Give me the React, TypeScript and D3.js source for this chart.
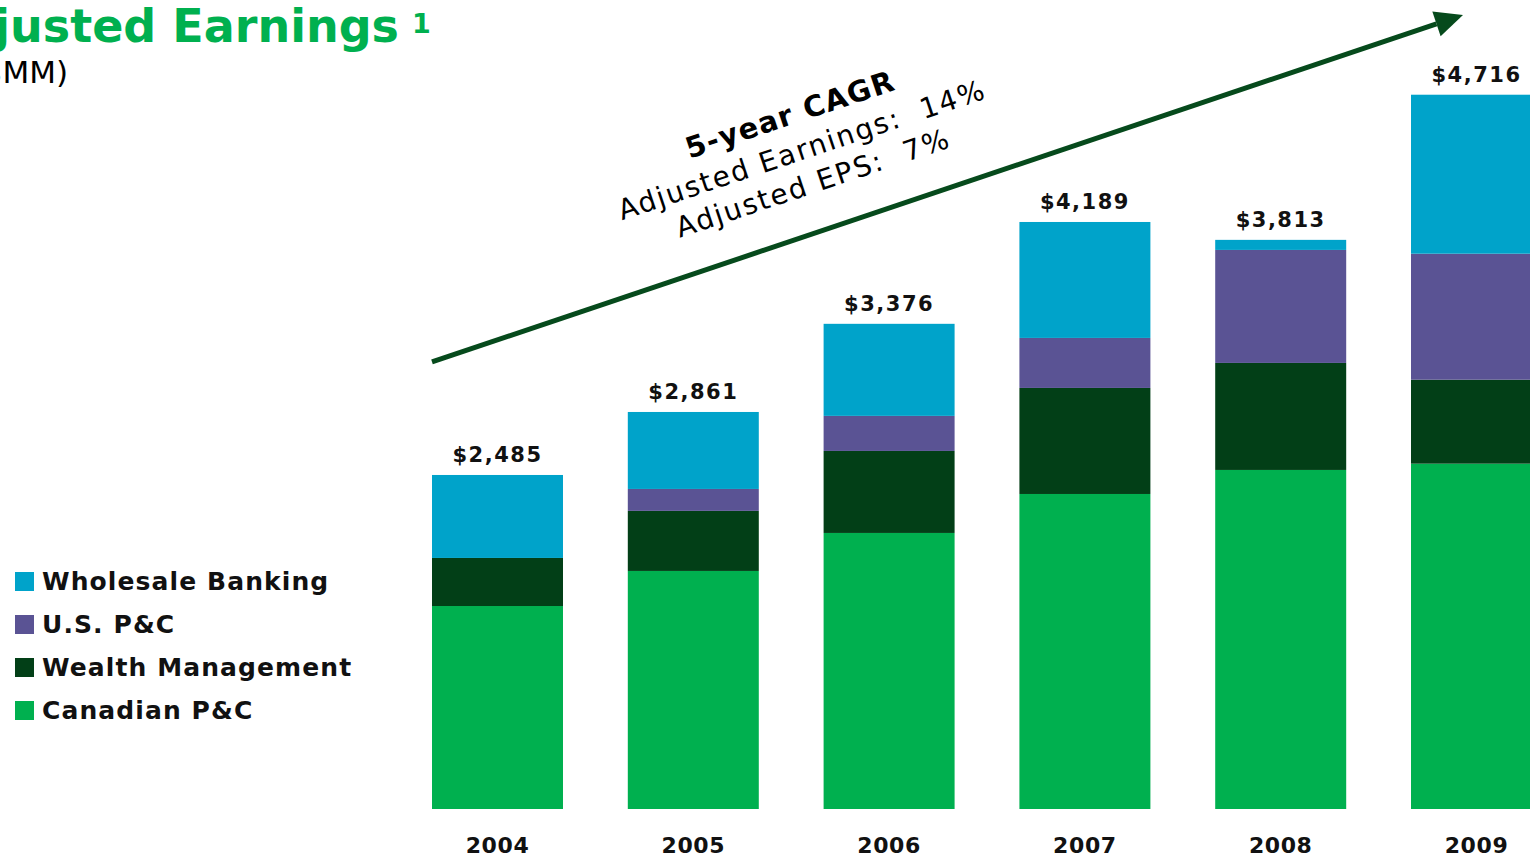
import React from "react";
import * as d3 from "d3";

const years = ["2004", "2005", "2006", "2007", "2008", "2009"];
const canadianPC = [1453, 1704, 1976, 2255, 2427, 2472];
const wealthMgmt = [344, 430, 587, 759, 766, 601];
const usPC = [0, 157, 251, 358, 809, 902];
const wholesale = [594, 551, 659, 830, 72, 1138];
const totalLabels = ["$2,485", "$2,861", "$3,376", "$4,189", "$3,813", "$4,716"];

const seriesKeys = ["canadianPC", "wealthMgmt", "usPC", "wholesale"];
const seriesNames = ["Canadian P&C", "Wealth Management", "U.S. P&C", "Wholesale Banking"];
const seriesColors = ["#00B04F", "#023F17", "#5A5394", "#00A3CA"];

const cagrLines = ["5-year CAGR", "Adjusted Earnings:  14%", "Adjusted EPS:  7%"];

const W = 1530;
const H = 856;
const FONT = "'DejaVu Sans', Verdana, sans-serif";

export default function App() {
  const rows = years.map((y, i) => ({
    year: y,
    canadianPC: canadianPC[i],
    wealthMgmt: wealthMgmt[i],
    usPC: usPC[i],
    wholesale: wholesale[i],
  }));
  const stack = d3.stack<any>().keys(seriesKeys)(rows);

  const x = d3.scaleBand().domain(years).range([432, 1542]).paddingInner(0.331).paddingOuter(0);
  const y = d3.scaleLinear().domain([0, 5000]).range([809, 809 - 698.5]);

  const arrowStart: [number, number] = [x("2004")!, y(3200)];
  const arrowEnd: [number, number] = [x("2009")! + 52, y(5684)];
  const ang = Math.atan2(arrowEnd[1] - arrowStart[1], arrowEnd[0] - arrowStart[0]);
  const headLen = 28;
  const headHalf = 13;
  const bx = arrowEnd[0] - headLen * Math.cos(ang);
  const by = arrowEnd[1] - headLen * Math.sin(ang);
  const px = -Math.sin(ang);
  const py = Math.cos(ang);
  const head = [
    [arrowEnd[0], arrowEnd[1]],
    [bx + headHalf * px, by + headHalf * py],
    [bx - headHalf * px, by - headHalf * py],
  ];

  const legendOrder = [3, 2, 1, 0];

  return (
    <div style={{ position: "fixed", left: 0, top: 0, width: W, height: H, background: "#fff" }}>
      <svg width={W} height={H} style={{ display: "block" }}>
        <rect width={W} height={H} fill="#fff" />
        {/* Title */}
        <text x={399} y={42} textAnchor="end" fontFamily={FONT} fontWeight="bold" fontSize={46} fill="#00B04F">
          Adjusted Earnings
        </text>
        <text x={412} y={33} fontFamily={FONT} fontWeight="bold" fontSize={27} fill="#00B04F">
          1
        </text>
        <text x={68} y={83} textAnchor="end" fontFamily={FONT} fontSize={31} fill="#000">
          ($MM)
        </text>

        {/* Bars */}
        {stack.map((s, si) => (
          <g key={seriesKeys[si]} fill={seriesColors[si]}>
            {s.map((d, i) => (
              <rect
                key={years[i]}
                x={x(years[i])}
                y={y(d[1])}
                width={x.bandwidth()}
                height={Math.max(0, y(d[0]) - y(d[1]))}
              />
            ))}
          </g>
        ))}

        {/* Total labels */}
        {years.map((yr, i) => {
          const top = stack[stack.length - 1][i][1];
          return (
            <text
              key={yr}
              x={x(yr)! + x.bandwidth() / 2}
              y={y(top) - 13}
              textAnchor="middle"
              fontFamily={FONT}
              fontWeight="bold"
              fontSize={21}
              letterSpacing={1.5}
              fill="#111"
            >
              {totalLabels[i]}
            </text>
          );
        })}

        {/* Year labels */}
        {years.map((yr) => (
          <text
            key={yr}
            x={x(yr)! + x.bandwidth() / 2}
            y={853}
            textAnchor="middle"
            fontFamily={FONT}
            fontWeight="bold"
            fontSize={22}
            letterSpacing={0.6}
            fill="#111"
          >
            {yr}
          </text>
        ))}

        {/* Arrow */}
        <line
          x1={arrowStart[0]}
          y1={arrowStart[1]}
          x2={bx}
          y2={by}
          stroke="#064A1C"
          strokeWidth={5}
        />
        <polygon points={head.map((p) => p.join(",")).join(" ")} fill="#064A1C" />

        {/* CAGR text */}
        <g transform="translate(805,159) rotate(-18.5)" fontFamily={FONT} fill="#000" textAnchor="middle">
          <text y={-37} fontWeight="bold" fontSize={29} letterSpacing={1.3}>
            {cagrLines[0]}
          </text>
          <text y={0} fontSize={28} letterSpacing={1.9} style={{ whiteSpace: "pre" }}>
            {cagrLines[1]}
          </text>
          <text y={35} fontSize={28} letterSpacing={1.9} style={{ whiteSpace: "pre" }}>
            {cagrLines[2]}
          </text>
        </g>

        {/* Legend */}
        {legendOrder.map((si, r) => (
          <g key={seriesKeys[si]} transform={`translate(15,${572 + r * 43})`}>
            <rect width={19} height={19} fill={seriesColors[si]} />
            <text x={27} y={18} fontFamily={FONT} fontWeight="bold" fontSize={25} letterSpacing={1.1} fill="#111">
              {seriesNames[si]}
            </text>
          </g>
        ))}
      </svg>
    </div>
  );
}
